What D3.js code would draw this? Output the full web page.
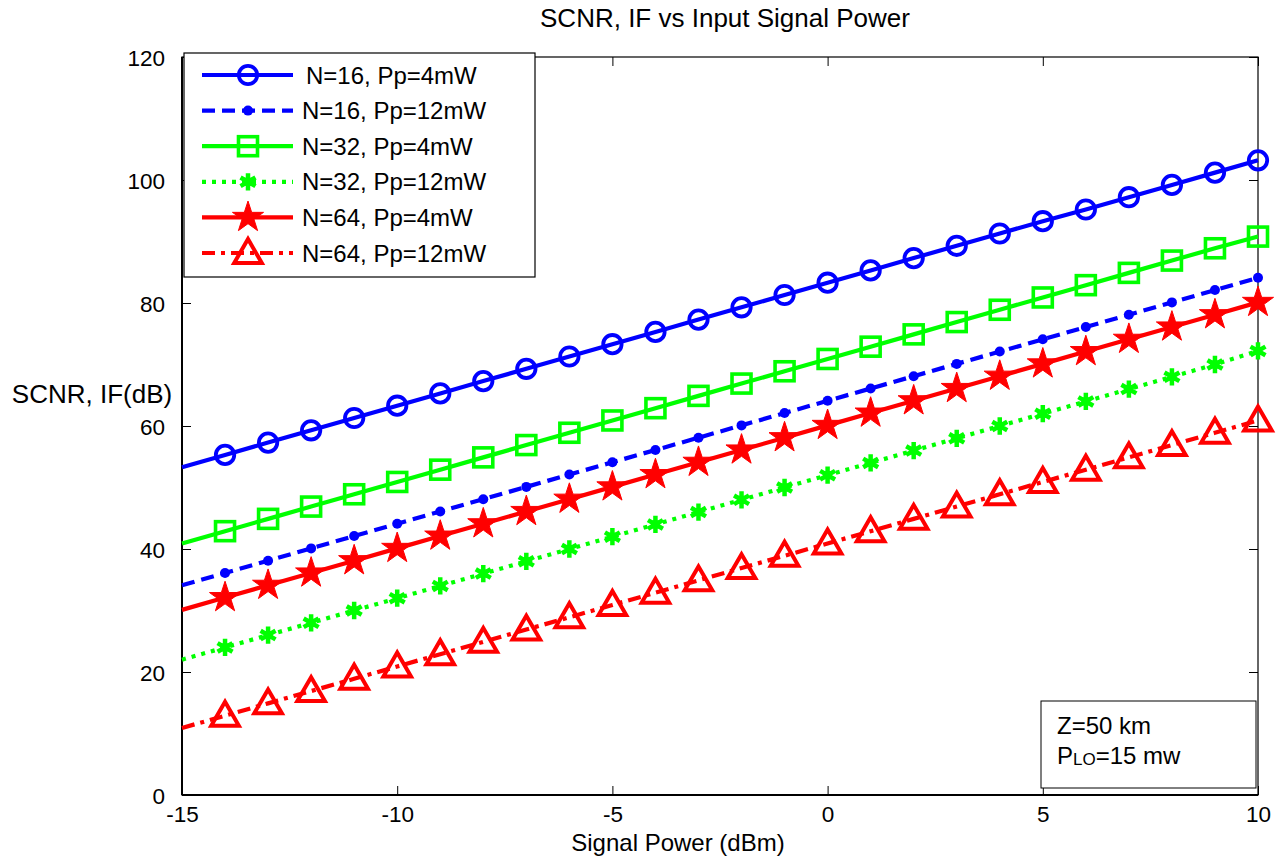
<!DOCTYPE html>
<html>
<head>
<meta charset="utf-8">
<script src="https://cdn.jsdelivr.net/npm/d3@7"></script>
<style>
  body { margin: 0; background: #fff; }
  svg { font-family: "Liberation Sans", Arial, sans-serif; }
</style>
</head>
<body>
<svg id="chart" width="1285" height="858"></svg>
<script>
// signal power (dBm)
const signalPower = [-15, -14, -13, -12, -11, -10, -9, -8, -7, -6, -5, -4, -3, -2, -1, 0, 1, 2, 3, 4, 5, 6, 7, 8, 9, 10];

// SCNR values (dB) per curve
const n16p4 = [53.3, 55.3, 57.3, 59.3, 61.3, 63.3, 65.3, 67.3, 69.3, 71.3, 73.3, 75.3, 77.3, 79.3, 81.3, 83.3, 85.3, 87.3, 89.3, 91.3, 93.3, 95.2, 97.2, 99.2, 101.2, 103.2];
const n16p12 = [34.1, 36.1, 38.1, 40.1, 42.1, 44.1, 46.1, 48.1, 50.1, 52.1, 54.1, 56.1, 58.1, 60.1, 62.1, 64.1, 66.1, 68.1, 70.1, 72.1, 74.1, 76.1, 78.1, 80.1, 82.1, 84.1];
const n32p4 = [40.9, 42.9, 44.9, 46.9, 48.9, 50.9, 52.9, 54.9, 56.9, 58.9, 60.9, 62.9, 64.9, 66.9, 68.9, 70.9, 72.9, 74.9, 76.9, 78.9, 80.9, 82.9, 84.9, 86.9, 88.9, 90.8];
const n32p12 = [22.0, 24.0, 26.0, 28.0, 30.0, 32.0, 34.0, 36.0, 38.0, 40.0, 42.0, 44.0, 46.0, 48.0, 50.0, 52.0, 54.0, 56.0, 58.0, 60.0, 62.0, 64.0, 66.0, 68.0, 70.0, 72.2];
const n64p4 = [30.1, 32.1, 34.1, 36.1, 38.1, 40.1, 42.1, 44.1, 46.1, 48.1, 50.1, 52.1, 54.1, 56.1, 58.1, 60.1, 62.1, 64.1, 66.1, 68.1, 70.1, 72.1, 74.1, 76.1, 78.1, 80.1];
const n64p12 = [10.9, 12.9, 14.9, 16.9, 18.9, 20.9, 22.9, 24.9, 26.9, 28.9, 30.9, 32.9, 34.9, 36.9, 38.9, 40.9, 42.9, 44.9, 46.9, 48.9, 50.9, 52.9, 54.9, 56.9, 58.9, 60.9];

const legendLabels = ["N=16, Pp=4mW", "N=16, Pp=12mW", "N=32, Pp=4mW", "N=32, Pp=12mW", "N=64, Pp=4mW", "N=64, Pp=12mW"];
const xTicks = [-15, -10, -5, 0, 5, 10];
const yTicks = [0, 20, 40, 60, 80, 100, 120];

const series = [
  { name: legendLabels[0], values: n16p4, color: "#0000ff", dash: null, sym: "circle" },
  { name: legendLabels[1], values: n16p12, color: "#0000ff", dash: "13,7", sym: "dot" },
  { name: legendLabels[2], values: n32p4, color: "#00ff00", dash: null, sym: "square" },
  { name: legendLabels[3], values: n32p12, color: "#00ff00", dash: "4,6", sym: "asterisk" },
  { name: legendLabels[4], values: n64p4, color: "#ff0000", dash: null, sym: "star" },
  { name: legendLabels[5], values: n64p12, color: "#ff0000", dash: "13,6,4,6", sym: "triangle" }
];

const svg = d3.select("#chart");
const pLeft = 182, pRight = 1258, pTop = 57, pBottom = 795;

const x = d3.scaleLinear().domain([-15, 10]).range([pLeft, pRight]);
const y = d3.scaleLinear().domain([0, 120]).range([pBottom, pTop]);

// title
svg.append("text")
  .attr("x", 725).attr("y", 27)
  .attr("text-anchor", "middle")
  .style("font-size", "26px")
  .text("SCNR, IF vs Input Signal Power");

// axes with inner ticks
const fmt = d => String(d);
const axB = svg.append("g").attr("transform", `translate(0,${pBottom})`)
  .call(d3.axisBottom(x).tickValues(xTicks).tickSizeInner(-9).tickSizeOuter(0).tickFormat(fmt));
const axT = svg.append("g").attr("transform", `translate(0,${pTop})`)
  .call(d3.axisTop(x).tickValues(xTicks).tickSizeInner(-9).tickSizeOuter(0).tickFormat(""));
const axL = svg.append("g").attr("transform", `translate(${pLeft},0)`)
  .call(d3.axisLeft(y).tickValues(yTicks).tickSizeInner(-9).tickSizeOuter(0).tickPadding(17).tickFormat(fmt));
const axR = svg.append("g").attr("transform", `translate(${pRight},0)`)
  .call(d3.axisRight(y).tickValues(yTicks).tickSizeInner(-9).tickSizeOuter(0).tickFormat(""));

[axB, axT, axL, axR].forEach(a => {
  a.select(".domain").remove();
  a.selectAll(".tick line").attr("stroke", "#000").attr("stroke-width", 1);
  a.selectAll("text").style("font-size", "22.5px").attr("fill", "#000")
    .style("font-family", "'Liberation Sans', Arial, sans-serif");
});
axL.selectAll("text").attr("dy", "0.36em");
axB.selectAll("text").attr("y", 27).attr("dy", 0);

// frame
svg.append("rect")
  .attr("x", pLeft).attr("y", pTop)
  .attr("width", pRight - pLeft).attr("height", pBottom - pTop)
  .attr("fill", "none").attr("stroke", "#000").attr("stroke-width", 1.2);
svg.append("line")
  .attr("x1", pLeft).attr("x2", pRight).attr("y1", pBottom).attr("y2", pBottom)
  .attr("stroke", "#000").attr("stroke-width", 2);
svg.append("line")
  .attr("x1", pLeft).attr("x2", pLeft).attr("y1", pTop).attr("y2", pBottom)
  .attr("stroke", "#000").attr("stroke-width", 2);

// axis labels
svg.append("text")
  .attr("x", 678).attr("y", 851)
  .attr("text-anchor", "middle")
  .style("font-size", "24px")
  .text("Signal Power (dBm)");
svg.append("text")
  .attr("x", 92).attr("y", 403)
  .attr("text-anchor", "middle")
  .style("font-size", "26px")
  .text("SCNR, IF(dB)");

// marker drawing helper
function drawMarker(g, sym, color) {
  if (sym === "circle") {
    g.append("circle").attr("r", 9.2).attr("fill", "none")
      .attr("stroke", color).attr("stroke-width", 3.8);
  } else if (sym === "dot") {
    g.append("circle").attr("r", 5).attr("fill", color);
  } else if (sym === "square") {
    g.append("rect").attr("x", -9.5).attr("y", -9.5).attr("width", 19).attr("height", 19)
      .attr("fill", "none").attr("stroke", color).attr("stroke-width", 3.6);
  } else if (sym === "asterisk") {
    g.append("path").attr("d", d3.symbol(d3.symbolAsterisk, 210)())
      .attr("fill", "none").attr("stroke", color).attr("stroke-width", 4.5);
    g.append("rect").attr("x", -4).attr("y", -4).attr("width", 8).attr("height", 8).attr("fill", color);
  } else if (sym === "star") {
    g.append("path").attr("d", d3.symbol(d3.symbolStar, 300)())
      .attr("fill", color).attr("stroke", color).attr("stroke-width", 1);
  } else if (sym === "triangle") {
    g.append("path").attr("d", d3.symbol(d3.symbolTriangle, 330)())
      .attr("transform", "translate(0,2)")
      .attr("fill", "none").attr("stroke", color).attr("stroke-width", 4)
      .attr("stroke-linejoin", "miter");
  }
}

const line = d3.line().x(d => x(d[0])).y(d => y(d[1]));
const plot = svg.append("g");

series.forEach(s => {
  const pts = signalPower.map((p, i) => [p, s.values[i]]);
  plot.append("path")
    .datum(pts)
    .attr("d", line)
    .attr("fill", "none")
    .attr("stroke", s.color)
    .attr("stroke-width", 4.2)
    .attr("stroke-dasharray", s.dash);
  plot.selectAll(null)
    .data(pts.filter(d => d[0] > -15))
    .enter().append("g")
    .attr("transform", d => `translate(${x(d[0])},${y(d[1])})`)
    .each(function () { drawMarker(d3.select(this), s.sym, s.color); });
});

// legend
const lg = svg.append("g");
lg.append("rect")
  .attr("x", 184).attr("y", 53).attr("width", 351).attr("height", 224)
  .attr("fill", "#fff").attr("stroke", "#000").attr("stroke-width", 1.2);
series.forEach((s, i) => {
  const ry = 75 + i * 35.6;
  lg.append("line")
    .attr("x1", 202).attr("x2", 293).attr("y1", ry).attr("y2", ry)
    .attr("stroke", s.color).attr("stroke-width", 4.2)
    .attr("stroke-dasharray", s.dash);
  drawMarker(lg.append("g").attr("transform", `translate(248,${ry})`), s.sym, s.color);
  lg.append("text")
    .attr("x", i === 0 ? 306 : 302).attr("y", ry).attr("dy", "0.36em")
    .style("font-size", "24px")
    .text(s.name);
});

// annotation box
const ann = svg.append("g");
ann.append("rect")
  .attr("x", 1041).attr("y", 701).attr("width", 215).attr("height", 87)
  .attr("fill", "#fff").attr("stroke", "#000").attr("stroke-width", 1);
ann.append("text").attr("x", 1057).attr("y", 734).style("font-size", "24px").text("Z=50 km");
const t2 = ann.append("text").attr("x", 1057).attr("y", 764).style("font-size", "24px");
t2.append("tspan").text("P");
t2.append("tspan").style("font-size", "17px").attr("dy", 1).text("LO");
t2.append("tspan").attr("dy", -1).text("=15 mw");
</script>
</body>
</html>
